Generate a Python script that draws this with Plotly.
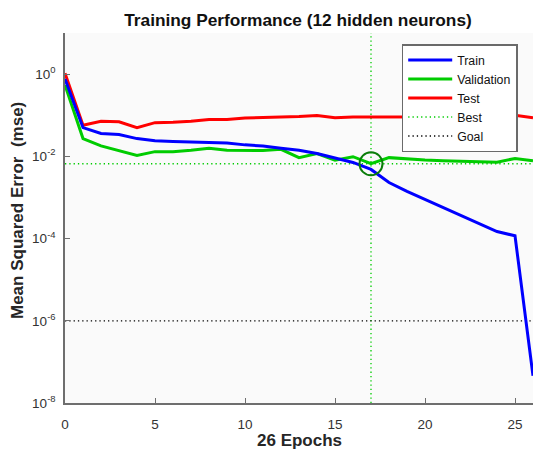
import numpy as np
import plotly.graph_objects as go

# ---- data ----
epochs = list(range(0, 27))
train = [0.76, 0.050, 0.036, 0.034, 0.027, 0.024, 0.023, 0.0224, 0.0224, 0.021,
         0.019, 0.0178, 0.0158, 0.0141, 0.0117, 0.0093, 0.0071, 0.0048, 0.0023,
         0.0014, 0.00089, 0.00058, 0.00036, 0.00023, 0.000148, 0.000117, 4.6e-8]
validation = [0.54, 0.027, 0.018, 0.014, 0.0105, 0.013, 0.013, 0.0141, 0.0158, 0.0141,
              0.0141, 0.0138, 0.0148, 0.0093, 0.0117, 0.0081, 0.0098, 0.0066, 0.0093,
              0.0085, 0.0081, 0.0078, 0.0076, 0.0074, 0.0072, 0.0089, 0.0078]
test = [1.05, 0.057, 0.071, 0.069, 0.050, 0.066, 0.067, 0.071, 0.079, 0.079,
        0.085, 0.089, 0.091, 0.093, 0.098, 0.087, 0.091, 0.091, 0.091,
        0.092, 0.092, 0.092, 0.092, 0.092, 0.092, 0.100, 0.087]
goal = 1e-6
y_exp_range = [-8, 1]
y_tick_exps = [0, -2, -4, -6, -8]
x_tick_vals = [0, 5, 10, 15, 20, 25]

title_text = "Training Performance (12 hidden neurons)"
x_title = f"{len(epochs) - 1} Epochs"
y_title = "Mean Squared Error&nbsp;&nbsp;(mse)"

best_epoch = int(np.argmin(validation))
best_val = validation[best_epoch]
n_epochs = epochs[-1]

FONT = "Liberation Sans, Arial, Helvetica, sans-serif"
BLUE = "#0000ff"
GREEN = "#00cc00"
RED = "#ff0000"
DARKGREEN = "#0b7d0b"

fig = go.Figure()

# Best lines (vertical + horizontal)
fig.add_trace(go.Scatter(
    x=[best_epoch, best_epoch, None, epochs[0], n_epochs],
    y=[10 ** y_exp_range[0], 10 ** y_exp_range[1], None, best_val, best_val],
    mode="lines", name="Best", legendrank=4,
    line=dict(color=GREEN, width=1.3, dash="1.3px,3px"),
))
# Goal line
fig.add_trace(go.Scatter(
    x=[epochs[0], n_epochs], y=[goal, goal],
    mode="lines", name="Goal", legendrank=5,
    line=dict(color="#000000", width=1.3, dash="1.3px,3px"),
))
fig.add_trace(go.Scatter(x=epochs, y=test, mode="lines", name="Test", legendrank=3,
                         line=dict(color=RED, width=3)))
fig.add_trace(go.Scatter(x=epochs, y=validation, mode="lines", name="Validation", legendrank=2,
                         line=dict(color=GREEN, width=3)))
fig.add_trace(go.Scatter(x=epochs, y=train, mode="lines", name="Train", legendrank=1,
                         line=dict(color=BLUE, width=3)))
# Best marker
fig.add_trace(go.Scatter(
    x=[best_epoch], y=[best_val], mode="markers", showlegend=False,
    marker=dict(symbol="circle-open", size=23, color=DARKGREEN,
                line=dict(color=DARKGREEN, width=2)),
))

axis_common = dict(
    showline=True, linecolor="#6e6e6e", linewidth=1.5,
    ticks="inside", ticklen=5, tickwidth=1.3, tickcolor="#6e6e6e",
    showgrid=False, zeroline=False, mirror=False,
    tickfont=dict(family=FONT, size=13.5, color="#333333"),
)

fig.update_layout(
    width=533, height=450,
    margin=dict(l=65, r=0, t=33, b=47),
    paper_bgcolor="#ffffff", plot_bgcolor="#fafafa",
    font=dict(family=FONT, color="#262626"),
    title=dict(text=f"<b>{title_text}</b>", x=298 / 533, xanchor="center",
               y=1 - 19.5 / 450, yanchor="middle", yref="container",
               font=dict(family=FONT, size=17.3, color="#111111")),
    xaxis=dict(range=[epochs[0], n_epochs], tickvals=x_tick_vals,
               ticklabelstandoff=8, **axis_common),
    yaxis=dict(type="log", range=y_exp_range,
               tickvals=[10.0 ** e for e in y_tick_exps],
               ticktext=[f"10<sup>{e}</sup>" for e in y_tick_exps],
               ticklabelstandoff=5, **axis_common),
    legend=dict(x=(401.7 - 65) / 468, y=(403 - 44) / 370, xanchor="left", yanchor="top",
                bgcolor="#ffffff", bordercolor="#6a6a6a", borderwidth=1.5,
                font=dict(family=FONT, size=12.3, color="#111111"),
                itemwidth=44, tracegroupgap=0),
    showlegend=True,
    annotations=[
        dict(text=f"<b>{x_title}</b>", xref="paper", yref="paper",
             x=0.5, y=-(440 - 403) / 370, xanchor="center", yanchor="middle",
             showarrow=False, font=dict(family=FONT, size=17, color="#262626")),
        dict(text=f"<b>{y_title}</b>", xref="paper", yref="paper",
             x=(17 - 65) / 468, y=(403 - 211) / 370, xanchor="center", yanchor="middle",
             textangle=-90, showarrow=False,
             font=dict(family=FONT, size=17, color="#262626")),
    ],
)

fig.write_html("out.html")
